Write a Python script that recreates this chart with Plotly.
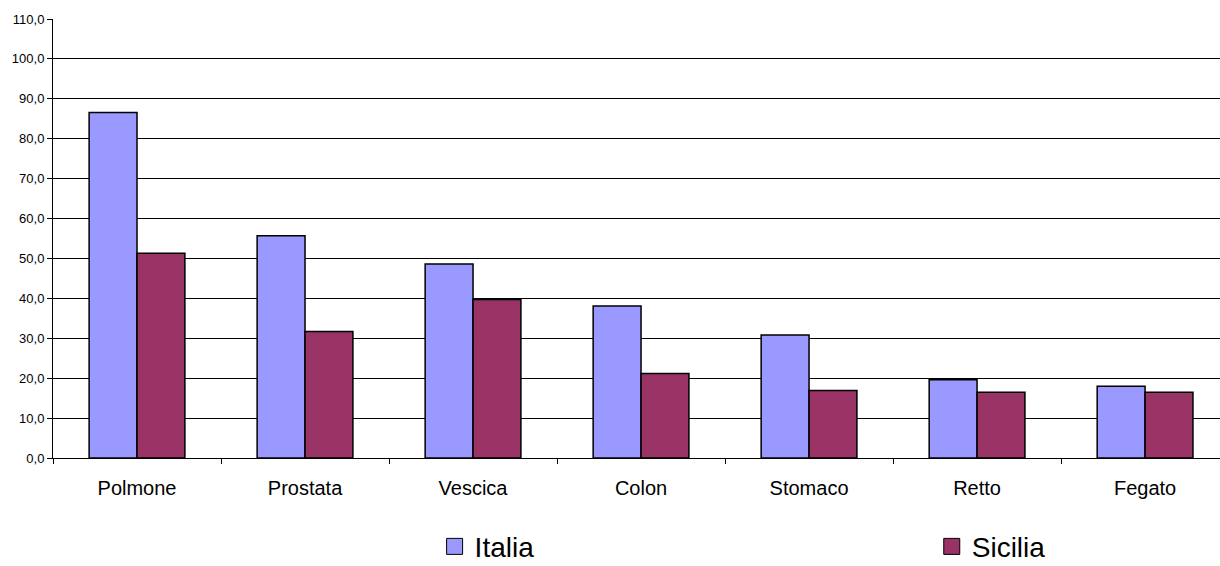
import plotly.graph_objects as go

categories = ["Polmone", "Prostata", "Vescica", "Colon", "Stomaco", "Retto", "Fegato"]
italia = [86.6, 55.7, 48.6, 38.1, 30.8, 19.6, 18.0]
sicilia = [51.3, 31.7, 39.7, 21.2, 16.9, 16.5, 16.5]
y_ticks = [0, 10, 20, 30, 40, 50, 60, 70, 80, 90, 100, 110]

col_it = "#9999FF"
col_si = "#993366"

fig = go.Figure()
fig.add_trace(go.Bar(x=categories, y=italia, name="Italia", marker=dict(color=col_it, line=dict(color="black", width=1.5)), showlegend=False))
fig.add_trace(go.Bar(x=categories, y=sicilia, name="Sicilia", marker=dict(color=col_si, line=dict(color="black", width=1.5)), showlegend=False))
# legend entries
for nm, c, lg in [("Italia", col_it, "legend"), ("Sicilia", col_si, "legend2")]:
    fig.add_trace(go.Scatter(x=[None], y=[None], mode="markers", name=nm, legend=lg,
                             marker=dict(symbol="square", size=18, color=c, line=dict(color="black", width=1))))

leg_common = dict(orientation="h", xanchor="left", y=-0.202, yanchor="middle",
                  font=dict(size=28, color="black"), itemsizing="trace",
                  bgcolor="rgba(0,0,0,0)", borderwidth=0)

fig.update_layout(
    width=1220, height=566,
    margin=dict(l=53, r=0, t=19, b=108, autoexpand=False),
    paper_bgcolor="white", plot_bgcolor="white",
    separators=",.",
    barmode="group", bargap=0.43, bargroupgap=0,
    font=dict(family="Liberation Sans, Arial", color="black"),
    showlegend=True,
    legend=dict(x=0.327, **leg_common),
    legend2=dict(x=0.753, **leg_common),
    xaxis=dict(type="category", range=[-0.5, 6.446], showline=True, linecolor="black", linewidth=1,
               ticks="outside", tickson="boundaries", ticklen=5, tickcolor="black",
               tickfont=dict(size=20), ticklabelstandoff=12, showgrid=False, zeroline=False, fixedrange=True),
    yaxis=dict(range=[0, 110], tickvals=y_ticks, tickformat=".1f", showline=True, linecolor="black", linewidth=1,
               ticks="outside", ticklen=5, tickcolor="black", tickfont=dict(size=13),
               showgrid=True, gridcolor="black", gridwidth=1, zeroline=False, fixedrange=True),
)

fig.write_html("out.html")
